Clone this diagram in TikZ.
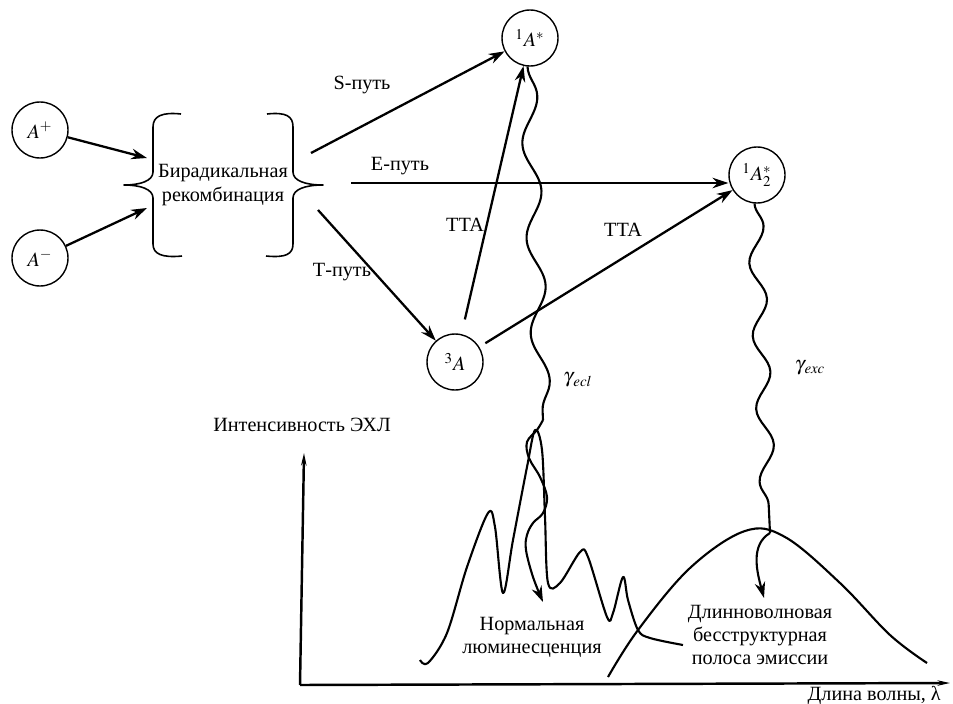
\documentclass[tikz,border=0pt]{standalone}
\usepackage{mathptmx}
\usepackage[no-math]{fontspec}
\setmainfont{Liberation Serif}
\newfontfamily\rusfont{Liberation Serif}
\usepackage{tikz}
\usetikzlibrary{arrows.meta, positioning, decorations.pathmorphing}
\tikzset{
	>={Stealth[length=9pt, width=6pt]}, % solid arrow heads
	species/.style={draw, circle, line width=0.8pt, minimum size=1.12cm, inner sep=0pt}, % the excited/ion states
	way/.style={->, line width=1.3pt}, % reaction paths
	spec/.style={line width=1.2pt, line join=round}, % spectra and brace strokes
	wavy/.style={line width=1.2pt, decorate, decoration={snake, amplitude=#1, segment length=1.9cm}},
	axis/.style={line width=1.4pt, -{Stealth[length=7pt, width=3pt]}},
}

\begin{document}
\begin{tikzpicture}[x=0.02cm, y=-0.02cm, font=\rusfont\fontsize{11.5}{14}\selectfont]
	\useasboundingbox (0,0) rectangle (953,703);
	% states
	\node[species] (ap) at (40,130) {$A^{+}$};
	\node[species] (am) at (40,258) {$A^{-}$};
	\node[species] (s1) at (530,38) {${}^{1}A^{*}$};
	\node[species] (t3) at (455,362) {${}^{3}A$};
	\node[species] (a2) at (757,175) {${}^{1}A_{2}^{*}$};
	\node[minimum width=2.8cm, minimum height=2.84cm, align=center] (rec) at (223,185) {Бирадикальная\\рекомбинация};
	% braces
	\draw[spec, line width=0.9pt] (181,114) .. controls (162,112) and (153,116) .. (153,127) -- (153,172) .. controls (153,181) and (140,185) .. (124,185) .. controls (140,185) and (153,189) .. (153,198) -- (153,244) .. controls (153,254) and (162,258) .. (182,256);
	\draw[spec, line width=0.9pt] (267,114) .. controls (286,112) and (293,116) .. (293,127) -- (293,172) .. controls (293,181) and (306,185) .. (323,185) .. controls (306,185) and (293,189) .. (293,198) -- (293,244) .. controls (293,254) and (286,258) .. (266,256);
	% paths
	\coordinate (sb) at ([xshift=0.34cm, yshift=0.64cm]rec.east);
	\coordinate (eb) at ([xshift=1.14cm, yshift=0.04cm]rec.east);
	\coordinate (tb) at ([xshift=0.48cm, yshift=-0.5cm]rec.east);
	\draw[way] (ap) -- ([xshift=-0.1cm, yshift=0.54cm]rec.west);
	\draw[way] (am) -- ([xshift=-0.1cm, yshift=-0.46cm]rec.west);
	\draw[way] (sb) -- (s1);
	\draw[way] (eb) -- (eb -| a2.west);
	\draw[way] (tb) -- (t3);
	\draw[way, shorten <=0.3cm] (t3) -- (s1);
	\draw[way, shorten <=0.14cm] (t3) -- (a2);
	\node (ls) at (362,85) {S-путь};
	\node (le) at (400,166) {Е-путь};
	\node (lt) at (342,272) {Т-путь};
	\node (tta1) at (465,225) {TTA};
	\node (tta2) at (623,230) {TTA};
	% emission
	\coordinate (w1) at (543,420);
	\coordinate (e1) at (543,602);
	\coordinate (w2) at (770,533);
	\coordinate (e2) at (764,598);
	\draw[wavy=0.17cm] (s1.-95) -- (w1);
	\draw[->, line width=1.2pt] plot[smooth, tension=0.6] coordinates {(w1) (537,430) (527,442) (529,458) (540,477) (547,497) (543,513) (533,523) (527,535) (526,550) (533,577) (e1)};
	\draw[wavy=0.16cm, decoration={segment length=1.46cm}] (a2.-95) -- (w2);
	\draw[->, line width=1.2pt] (w2) .. controls (750,545) and (757,572) .. (e2);
	\node (ge) at (578,380) {$\gamma_{\,ecl}$};
	\node (gx) at (810,368) {$\gamma_{\,exc}$};
	% spectrum
	\coordinate (o) at (300,685);
	\coordinate (ytop) at (304,453);
	\coordinate (xend) at (950,683);
	\draw[axis] (o) -- (ytop);
	\draw[axis] (o) -- (xend);
	\node (yl) at (302,425) {Интенсивность ЭХЛ};
	\node[anchor=east] (xl) at (947,696) {Длина волны, λ};
	\draw[spec] plot[smooth, tension=0.55] coordinates {(420,660) (428,663) (447,633) (467,567) (488,513) (495,527) (503,593) (513,540) (527,467) (535,430) (542,450) (545,517) (548,583) (560,583) (580,552) (588,557) (607,617) (613,613) (623,577) (628,600) (638,630) (650,638) (683,645)};
	\draw[spec] plot[smooth, tension=0.6] coordinates {(608,677) (638,630) (690,568) (745,531) (785,537) (840,583) (890,635) (927,663)};
	\node[align=center, font=\rusfont\fontsize{11.5}{13}\selectfont] (nl) at (532,637) {Нормальная\\люминесценция};
	\node[align=center, font=\rusfont\fontsize{11.5}{13}\selectfont] (ll) at (760,635) {Длинноволновая\\бесструктурная\\полоса эмиссии};
\end{tikzpicture}
\end{document}
